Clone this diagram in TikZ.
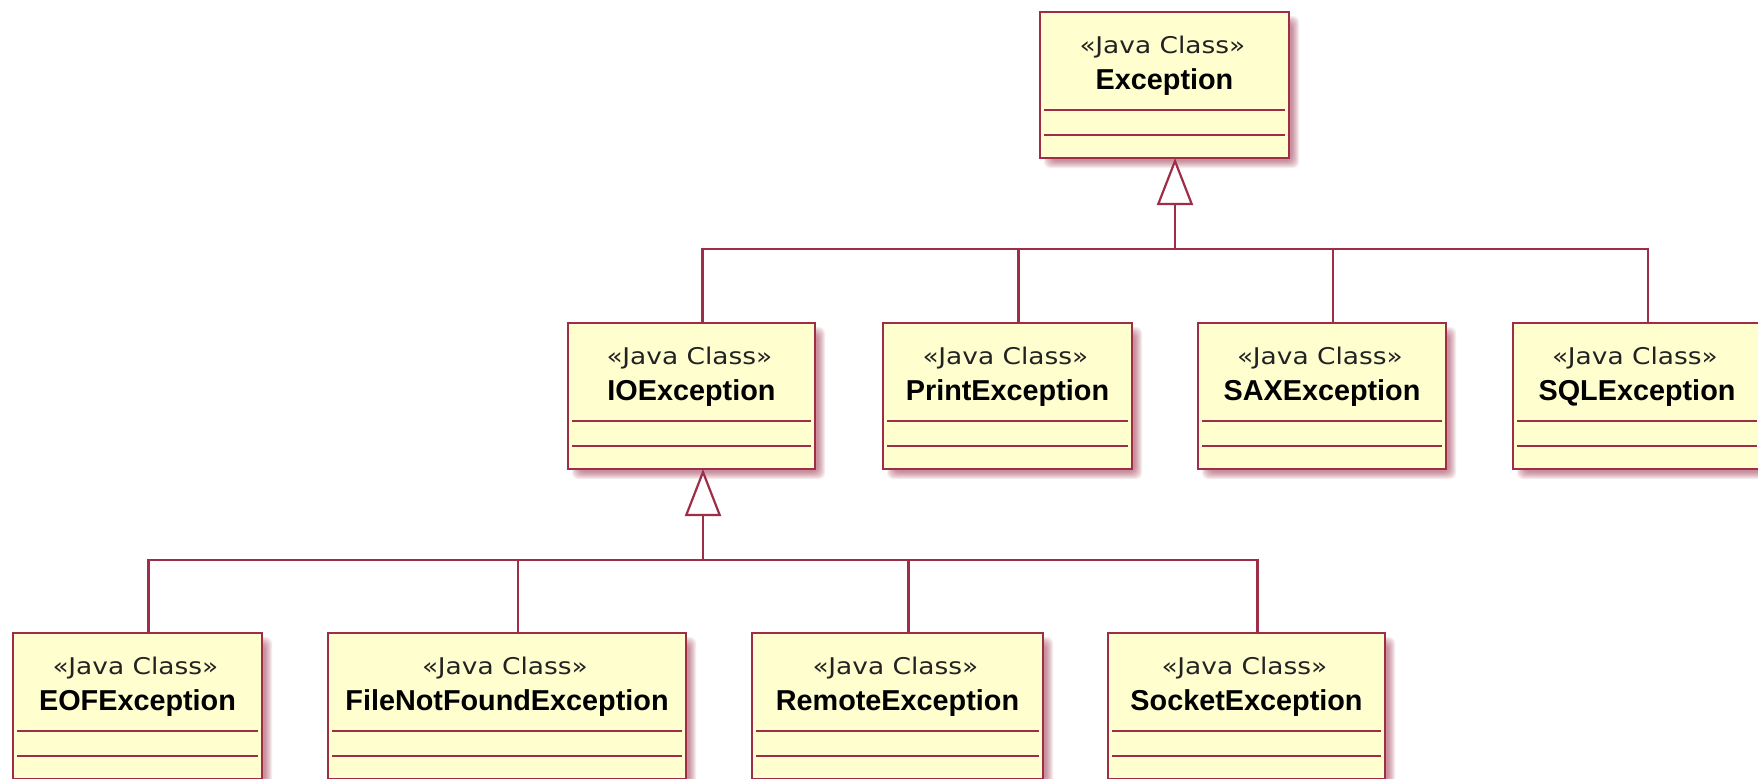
\documentclass[tikz,border=0pt]{standalone}
\usepackage{fontspec}
\setmainfont{Liberation Sans}
\newfontfamily\stereofont[FakeStretch=1.15]{DejaVu Sans}
\usetikzlibrary{arrows.meta}
\definecolor{umlborder}{RGB}{158,46,72}
\definecolor{umlfill}{RGB}{254,254,206}
\definecolor{stereotext}{RGB}{34,34,34}
\tikzset{
  classbox/.style={draw=umlborder, line width=1.4pt, fill=umlfill, rectangle, inner sep=0pt, outer sep=0pt},
  shadowlayer/.style={fill=umlborder, opacity=0.085, rounded corners=3pt},
  comp/.style={draw=umlborder, line width=1pt},
  stereo/.style={font=\stereofont\fontsize{11.5pt}{13pt}\selectfont, text=stereotext, inner sep=0pt, anchor=base},
  cname/.style={font=\bfseries\fontsize{14.4pt}{16pt}\selectfont, text=black, inner sep=0pt, anchor=base},
  conn/.style={draw=umlborder, line width=1.1pt},
  genarrow/.style={conn, -{Triangle[length=23.5pt, width=18pt, fill=white, line join=miter]}},
}
% name, x1, x2, ytop, label
\newcommand\umlclass[5]{%
  \pgfmathsetmacro\xa{#2}\pgfmathsetmacro\xb{#3}%
  \pgfmathsetmacro\ya{#4}\pgfmathsetmacro\yb{#4+146}%
  \pgfmathsetmacro\cx{(#2+#3)/2}%
  \foreach \k in {-4,...,3}{\fill[shadowlayer] (\xa+7-\k,\ya+7-\k) rectangle (\xb+7+\k,\yb+7+\k);}
  \node[classbox, minimum width={(#3-#2)*0.5pt}, minimum height=73pt] (#1) at (\cx,\ya+73) {};
  \draw[comp] ([xshift=2pt,yshift=-49pt]#1.north west) -- ([xshift=-2pt,yshift=-49pt]#1.north east);
  \draw[comp] ([xshift=2pt,yshift=-61.5pt]#1.north west) -- ([xshift=-2pt,yshift=-61.5pt]#1.north east);
  \node[stereo] (#1-st) at (\cx-2,\ya+41) {«Java Class»};
  \node[cname] (#1-nm) at (\cx,\ya+77) {#5};
}
\begin{document}
\begin{tikzpicture}[x=0.5pt, y=-0.5pt]
  \path[use as bounding box] (0,0) rectangle (1758,778);
  \fill[white] (0,0) rectangle (1758,778);
  \clip (0,0) rectangle (1758,778);

  \umlclass{exc}{1040}{1289}{12}{Exception}
  \umlclass{io}{568}{815}{323}{IOException}
  \umlclass{print}{883}{1132}{323}{PrintException}
  \umlclass{sax}{1198}{1446}{323}{SAXException}
  \umlclass{sql}{1513}{1761}{323}{SQLException}
  \umlclass{eof}{13}{262}{633}{EOFException}
  \umlclass{fnf}{328}{686}{633}{FileNotFoundException}
  \umlclass{remote}{752}{1043}{633}{RemoteException}
  \umlclass{socket}{1108}{1385}{633}{SocketException}

  % first level generalisation
  \coordinate (b1) at (1175,249);
  \draw[conn] ([xshift=5.5pt]io.north) |- (b1);
  \draw[conn] ([xshift=5.5pt]print.north) |- (b1);
  \draw[conn] ([xshift=5.5pt]sax.north) |- (b1);
  \draw[conn] ([xshift=5.5pt]sql.north) |- (b1);
  \draw[genarrow] (b1) -- (b1 |- exc.south);

  % second level generalisation
  \coordinate (b2) at (703,560);
  \draw[conn] ([xshift=5.5pt]eof.north) |- (b2);
  \draw[conn] ([xshift=5.5pt]fnf.north) |- (b2);
  \draw[conn] ([xshift=5.5pt]remote.north) |- (b2);
  \draw[conn] ([xshift=5.5pt]socket.north) |- (b2);
  \draw[genarrow] (b2) -- (b2 |- io.south);
\end{tikzpicture}
\end{document}
